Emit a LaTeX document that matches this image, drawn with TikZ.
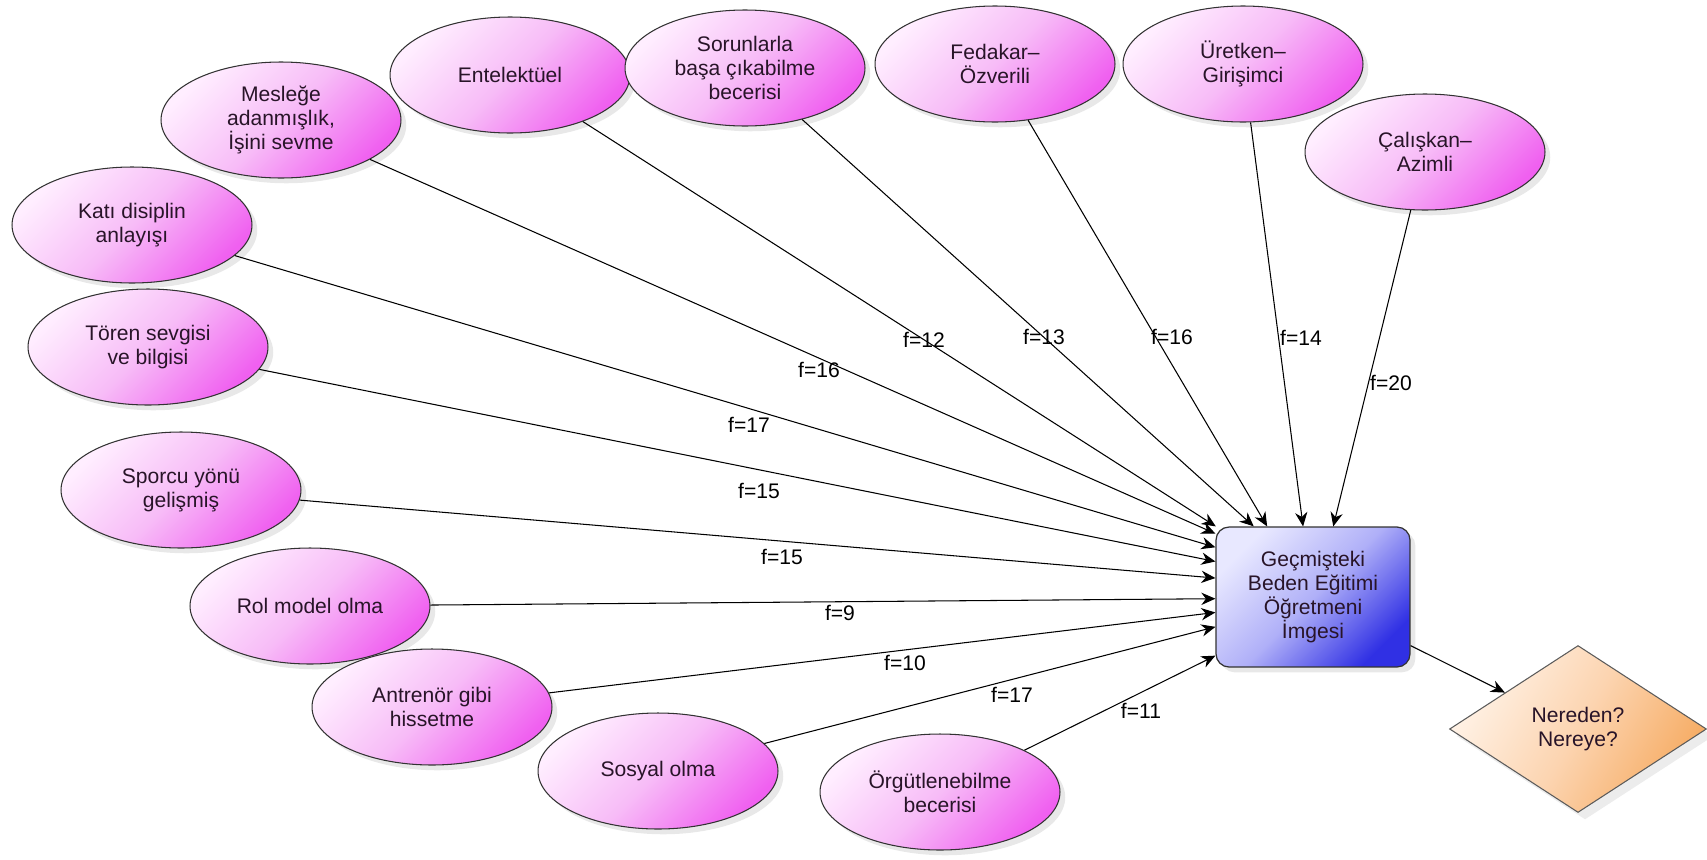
\documentclass[tikz,border=0pt]{standalone}
\usepackage{fontspec}
\setmainfont{Liberation Sans}
\usetikzlibrary{shapes.geometric, arrows.meta, shadows}

\definecolor{pinklight}{RGB}{255, 238, 255}
\definecolor{pinkmid}{RGB}{247, 188, 247}
\definecolor{pinkdark}{RGB}{240, 96, 240}
\definecolor{bluelight}{RGB}{232, 232, 255}
\definecolor{bluemid}{RGB}{176, 176, 248}
\definecolor{bluedark}{RGB}{48, 48, 228}
\definecolor{orangelight}{RGB}{255, 242, 230}
\definecolor{orangemid}{RGB}{252, 212, 176}
\definecolor{orangedark}{RGB}{246, 172, 100}
\definecolor{edgegray}{RGB}{50, 50, 50}
\definecolor{textdark}{RGB}{40, 20, 40}

\tikzset{
  trait/.style={ellipse, draw=edgegray, line width=0.6pt, minimum width=4.8cm, minimum height=2.32cm, inner sep=0pt, align=center, font=\fontsize{12}{13.7}\selectfont, text=textdark, top color=pinklight, bottom color=pinkdark, middle color=pinkmid, shading angle=45, drop shadow={shadow xshift=3pt, shadow yshift=-3pt, opacity=0.18}},
  imgbox/.style={draw=edgegray, line width=0.7pt, rounded corners=0.26cm, minimum width=3.88cm, minimum height=2.8cm, inner sep=0pt, align=center, font=\fontsize{12}{13.7}\selectfont, text=textdark, top color=bluelight, bottom color=bluedark, middle color=bluemid, shading angle=45, drop shadow={shadow xshift=3pt, shadow yshift=-3pt, opacity=0.18}},
  askbox/.style={diamond, draw=edgegray!80, line width=0.6pt, minimum width=5.14cm, minimum height=3.34cm, inner sep=0pt, align=center, font=\fontsize{12}{13.7}\selectfont, text=textdark, top color=orangelight, bottom color=orangedark, middle color=orangemid, shading angle=60, drop shadow={shadow xshift=4pt, shadow yshift=-4pt, opacity=0.15}},
  arr/.style={-{Stealth[length=8pt, width=7pt]}, line width=0.6pt},
  freq/.style={font=\fontsize{12}{14}\selectfont, inner sep=1pt}
}

\begin{document}
\begin{tikzpicture}[x=0.02cm, y=-0.02cm]
  \useasboundingbox (0,0) rectangle (1707,859);

  % Image and question
  \node[imgbox] (imge) at (1313,597) {Geçmişteki\\Beden Eğitimi\\Öğretmeni\\İmgesi};
  \node[askbox] (nereden) at (1578,729) {Nereden?\\Nereye?};

  % Traits
  \node[trait] (ent) at (510,75) {Entelektüel};
  \node[trait] (sorun) at (745,68) {Sorunlarla\\başa çıkabilme\\becerisi};
  \node[trait] (meslek) at (281,120) {Mesleğe\\adanmışlık,\\İşini sevme};
  \node[trait] (kati) at (132,225) {Katı disiplin\\anlayışı};
  \node[trait] (toren) at (148,347) {Tören sevgisi\\ve bilgisi};
  \node[trait] (sporcu) at (181,490) {Sporcu yönü\\gelişmiş};
  \node[trait] (rol) at (310,606) {Rol model olma};
  \node[trait] (antrenor) at (432,707) {Antrenör gibi\\hissetme};
  \node[trait] (sosyal) at (658,771) {Sosyal olma};
  \node[trait] (orgut) at (940,792) {Örgütlenebilme\\becerisi};
  \node[trait] (fedakar) at (995,64) {Fedakar--\\Özverili};
  \node[trait] (uretken) at (1243,64) {Üretken--\\Girişimci};
  \node[trait] (caliskan) at (1425,152) {Çalışkan--\\Azimli};

  % Arrows into the image
  \draw[arr] (ent) -- (imge.144);
  \draw[arr] (sorun) -- (imge.130);
  \draw[arr] (fedakar) -- (imge.123);
  \draw[arr] (uretken) -- (imge.98);
  \draw[arr] (caliskan) -- (imge.74);
  \draw[arr] (meslek) -- (imge.147);
  \draw[arr] (kati) -- (imge.153);
  \draw[arr] (toren) -- (imge.160);
  \draw[arr] (sporcu) -- (imge.169);
  \draw[arr] (rol) -- (imge.181);
  \draw[arr] (antrenor) -- (imge.189);
  \draw[arr] (sosyal) -- (imge.197);
  \draw[arr] (orgut) -- (imge.211);
  \draw[arr] (imge) -- (nereden);

  % Frequencies
  \node[freq] (fent) at (924,340) {f=12};
  \node[freq] (fsorun) at (1044,337) {f=13};
  \node[freq] (ffedakar) at (1172,337) {f=16};
  \node[freq] (furetken) at (1301,338) {f=14};
  \node[freq] (fcaliskan) at (1391,383) {f=20};
  \node[freq] (fmeslek) at (819,370) {f=16};
  \node[freq] (fkati) at (749,425) {f=17};
  \node[freq] (ftoren) at (759,491) {f=15};
  \node[freq] (fsporcu) at (782,557) {f=15};
  \node[freq] (frol) at (840,613) {f=9};
  \node[freq] (fantrenor) at (905,663) {f=10};
  \node[freq] (fsosyal) at (1012,695) {f=17};
  \node[freq] (forgut) at (1141,711) {f=11};
\end{tikzpicture}
\end{document}
